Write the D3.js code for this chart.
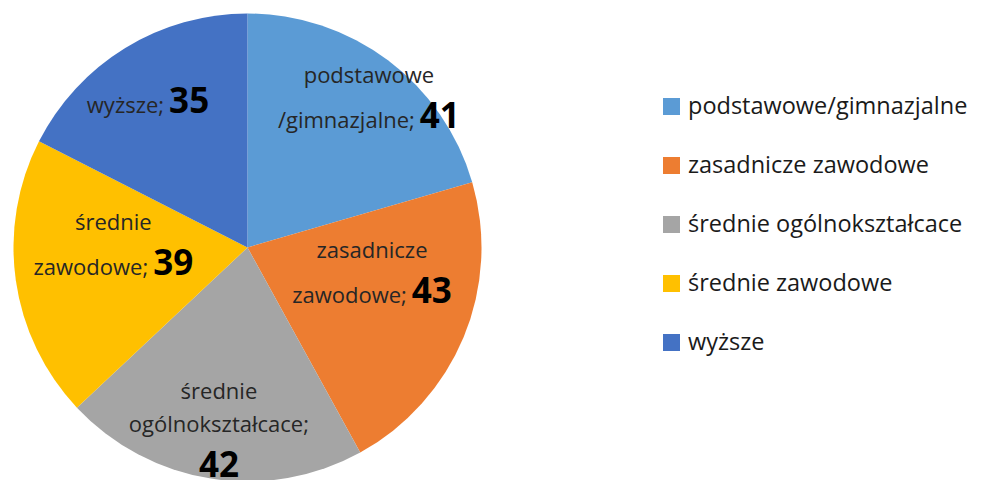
<!DOCTYPE html>
<html>
<head>
  <meta charset="utf-8">
  <script src="https://cdn.jsdelivr.net/npm/d3@7"></script>
  <style>
    body { margin: 0; background: #fff; }
    svg text { font-family: "Open Sans", sans-serif; }
  </style>
</head>
<body>
  <div id="chart"></div>
  <script>
    // data
    var categories = ["podstawowe/gimnazjalne", "zasadnicze zawodowe", "średnie ogólnokształcace", "średnie zawodowe", "wyższe"];
    var values = [41, 43, 42, 39, 35];
    // how the label text is broken into lines inside the slices
    var labelLines = [
      ["podstawowe", "/gimnazjalne;"],
      ["zasadnicze", "zawodowe;"],
      ["średnie", "ogólnokształcace;", ""],
      ["średnie", "zawodowe;"],
      ["wyższe;"]
    ];
    var colors = ["#5B9BD5", "#ED7D31", "#A5A5A5", "#FFC000", "#4472C4"];

    // label anchor (first baseline) in polar form: angle in degrees from top, fraction of radius
    var labelPos = [[36.4, 0.874], [94.8, 0.534], [190.7, 0.658], [277.4, 0.578], [323.5, 0.715]];

    var width = 997, height = 480,
      cx = 247.5, cy = 247.5,
      radius = 234;

    var svg = d3.select("#chart").append("svg")
      .attr("width", width)
      .attr("height", height);

    var data = categories.map(function(c, i) { return { name: c, value: values[i], i: i }; });

    var pie = d3.pie().value(function(d) { return d.value; }).sort(null);
    var arc = d3.arc().innerRadius(0).outerRadius(radius);

    var g = svg.append("g").attr("transform", "translate(" + cx + "," + cy + ")");

    g.selectAll("path.slice")
      .data(pie(data))
      .enter().append("path")
      .attr("class", "slice")
      .attr("d", arc)
      .attr("fill", function(d) { return colors[d.data.i]; });

    // data labels
    var labels = g.selectAll("g.label")
      .data(pie(data))
      .enter().append("g")
      .attr("class", "label")
      .attr("transform", function(d) {
        var p = labelPos[d.data.i];
        var a = p[0] * Math.PI / 180;
        var r = p[1] * radius;
        return "translate(" + (r * Math.sin(a)) + "," + (-r * Math.cos(a)) + ")";
      });

    labels.each(function(d) {
      var lines = labelLines[d.data.i];
      var t = d3.select(this).append("text")
        .attr("text-anchor", "middle")
        .attr("font-size", "22px")
        .attr("fill", "#262626");
      var y = 0;
      lines.forEach(function(line, k) {
        var last = k == lines.length - 1;
        if (k > 0) y += last ? 45 : 33;
        if (line) t.append("tspan").attr("x", 0).attr("y", y).text(line);
        if (last) {
          var num = t.append("tspan")
            .attr("font-size", "35px")
            .attr("font-weight", "bold")
            .attr("fill", "#000")
            .text(d.data.value);
          if (line) num.attr("dx", 5);
          else num.attr("x", 0).attr("y", y);
        }
      });
    });

    // legend
    var legend = svg.selectAll("g.legend")
      .data(data)
      .enter().append("g")
      .attr("class", "legend")
      .attr("transform", function(d, i) { return "translate(663," + (106 + i * 59) + ")"; });

    legend.append("rect")
      .attr("x", 0).attr("y", -8)
      .attr("width", 17).attr("height", 17)
      .attr("fill", function(d) { return colors[d.i]; });

    legend.append("text")
      .attr("x", 25).attr("y", 8)
      .attr("font-size", "23.5px")
      .attr("fill", "#1a1a1a")
      .text(function(d) { return d.name; });
  </script>
</body>
</html>
